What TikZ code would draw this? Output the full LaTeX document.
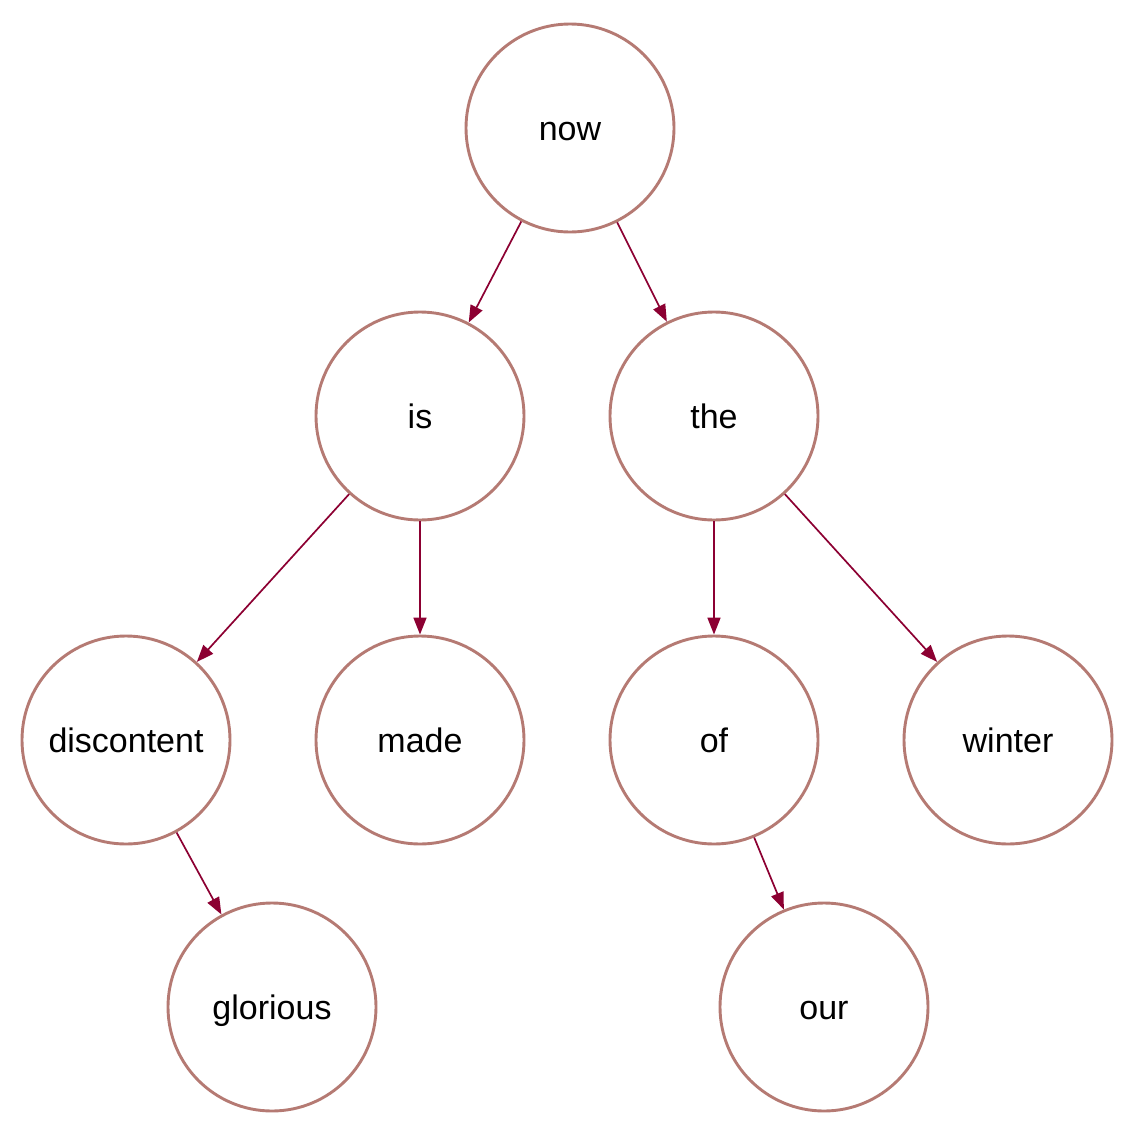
\documentclass[tikz,border=0pt]{standalone}
\usepackage{fontspec}
\setmainfont{Liberation Sans}
\usepackage{xcolor}
\definecolor{rosebrown}{RGB}{181, 122, 115}
\definecolor{crimson}{RGB}{140,  0,  50}
\usetikzlibrary{arrows.meta}
\tikzset{
  wordnode/.style={circle, draw=rosebrown, line width=2.9pt, fill=white,
    minimum size=208pt, inner sep=0pt, text height=24pt, text depth=0pt,
    font=\fontsize{34}{40}\selectfont},
  treearrow/.style={-{Triangle[length=17pt,width=13pt]}, line width=1.7pt, color=crimson}
}
\begin{document}
\begin{tikzpicture}[x=1pt, y=-1pt]

  \useasboundingbox (0,0) rectangle (1135,1135);

  % Words of the tree
  \node[wordnode] (now)        at (570,128)  {now};
  \node[wordnode] (is)         at (420,416)  {is};
  \node[wordnode] (the)        at (714,416)  {the};
  \node[wordnode] (discontent) at (126,740)  {discontent};
  \node[wordnode] (made)       at (420,740)  {made};
  \node[wordnode] (of)         at (714,740)  {of};
  \node[wordnode] (winter)     at (1008,740) {winter};
  \node[wordnode] (glorious)   at (272,1007) {glorious};
  \node[wordnode] (our)        at (824,1007) {our};

  % Parent to child
  \draw[treearrow] (now)        -- (is);
  \draw[treearrow] (now)        -- (the);
  \draw[treearrow] (is)         -- (discontent);
  \draw[treearrow] (is)         -- (made);
  \draw[treearrow] (the)        -- (of);
  \draw[treearrow] (the)        -- (winter);
  \draw[treearrow] (discontent) -- (glorious);
  \draw[treearrow] (of)         -- (our);

\end{tikzpicture}
\end{document}
